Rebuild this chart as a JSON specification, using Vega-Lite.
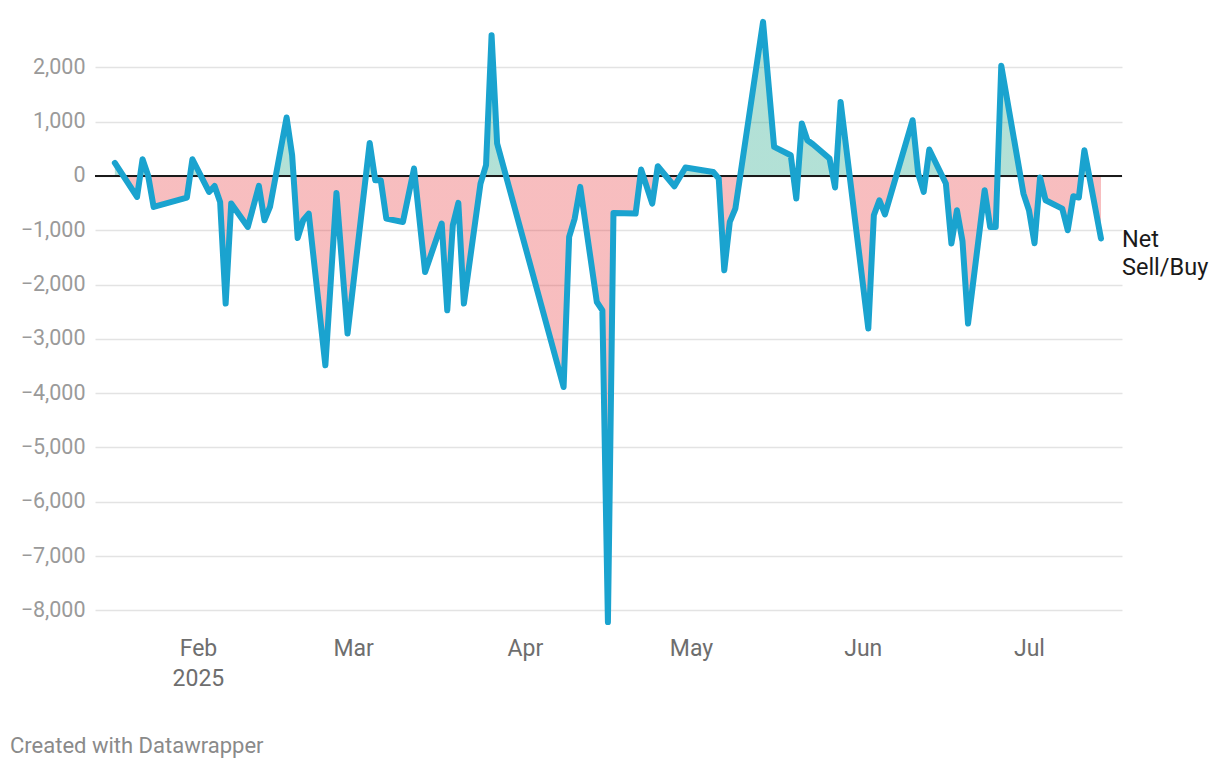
{
  "$schema": "https://vega.github.io/schema/vega-lite/v6.json",
  "width": 1027,
  "height": 611,
  "autosize": {"type": "none"},
  "padding": {"left": 95, "top": 13, "right": 98, "bottom": 144},
  "background": "white",
  "config": {"view": {"stroke": null}, "font": "Roboto"},
  "title": {"text": "Created with Datawrapper", "orient": "bottom", "anchor": "start", "frame": "group", "dx": -85, "offset": 46, "fontSize": 22, "fontWeight": "normal", "color": "#8a8a8a", "font": "Roboto"},
  "data": {"values": [
    {"date": "2025-01-17", "value": 240},
    {"date": "2025-01-21", "value": -387},
    {"date": "2025-01-22", "value": 307},
    {"date": "2025-01-23", "value": 10},
    {"date": "2025-01-24", "value": -571},
    {"date": "2025-01-30", "value": -398},
    {"date": "2025-01-31", "value": 307},
    {"date": "2025-02-03", "value": -295},
    {"date": "2025-02-04", "value": -184},
    {"date": "2025-02-05", "value": -479},
    {"date": "2025-02-06", "value": -2350},
    {"date": "2025-02-07", "value": -509},
    {"date": "2025-02-10", "value": -939},
    {"date": "2025-02-12", "value": -184},
    {"date": "2025-02-13", "value": -816},
    {"date": "2025-02-14", "value": -571},
    {"date": "2025-02-17", "value": 1076},
    {"date": "2025-02-18", "value": 381},
    {"date": "2025-02-19", "value": -1142},
    {"date": "2025-02-20", "value": -816},
    {"date": "2025-02-21", "value": -693},
    {"date": "2025-02-24", "value": -3487},
    {"date": "2025-02-26", "value": -313},
    {"date": "2025-02-28", "value": -2903},
    {"date": "2025-03-04", "value": 608},
    {"date": "2025-03-05", "value": -79},
    {"date": "2025-03-06", "value": -79},
    {"date": "2025-03-07", "value": -785},
    {"date": "2025-03-10", "value": -847},
    {"date": "2025-03-12", "value": 136},
    {"date": "2025-03-14", "value": -1768},
    {"date": "2025-03-17", "value": -877},
    {"date": "2025-03-18", "value": -2474},
    {"date": "2025-03-19", "value": -908},
    {"date": "2025-03-20", "value": -497},
    {"date": "2025-03-21", "value": -2350},
    {"date": "2025-03-24", "value": -140},
    {"date": "2025-03-25", "value": 197},
    {"date": "2025-03-26", "value": 2592},
    {"date": "2025-03-27", "value": 597},
    {"date": "2025-04-08", "value": -3887},
    {"date": "2025-04-09", "value": -1123},
    {"date": "2025-04-10", "value": -785},
    {"date": "2025-04-11", "value": -202},
    {"date": "2025-04-14", "value": -2321},
    {"date": "2025-04-15", "value": -2474},
    {"date": "2025-04-16", "value": -8215},
    {"date": "2025-04-17", "value": -681},
    {"date": "2025-04-21", "value": -693},
    {"date": "2025-04-22", "value": 117},
    {"date": "2025-04-24", "value": -509},
    {"date": "2025-04-25", "value": 179},
    {"date": "2025-04-28", "value": -190},
    {"date": "2025-04-30", "value": 154},
    {"date": "2025-05-05", "value": 74},
    {"date": "2025-05-06", "value": -48},
    {"date": "2025-05-07", "value": -1737},
    {"date": "2025-05-08", "value": -847},
    {"date": "2025-05-09", "value": -601},
    {"date": "2025-05-14", "value": 2837},
    {"date": "2025-05-16", "value": 534},
    {"date": "2025-05-19", "value": 381},
    {"date": "2025-05-20", "value": -417},
    {"date": "2025-05-21", "value": 965},
    {"date": "2025-05-22", "value": 658},
    {"date": "2025-05-23", "value": 584},
    {"date": "2025-05-26", "value": 320},
    {"date": "2025-05-27", "value": -214},
    {"date": "2025-05-28", "value": 1363},
    {"date": "2025-06-02", "value": -2811},
    {"date": "2025-06-03", "value": -724},
    {"date": "2025-06-04", "value": -448},
    {"date": "2025-06-05", "value": -708},
    {"date": "2025-06-10", "value": 1026},
    {"date": "2025-06-11", "value": 44},
    {"date": "2025-06-12", "value": -295},
    {"date": "2025-06-13", "value": 486},
    {"date": "2025-06-16", "value": -140},
    {"date": "2025-06-17", "value": -1245},
    {"date": "2025-06-18", "value": -632},
    {"date": "2025-06-19", "value": -1200},
    {"date": "2025-06-20", "value": -2719},
    {"date": "2025-06-23", "value": -263},
    {"date": "2025-06-24", "value": -939},
    {"date": "2025-06-25", "value": -939},
    {"date": "2025-06-26", "value": 2030},
    {"date": "2025-06-30", "value": -325},
    {"date": "2025-07-01", "value": -632},
    {"date": "2025-07-02", "value": -1240},
    {"date": "2025-07-03", "value": -30},
    {"date": "2025-07-04", "value": -448},
    {"date": "2025-07-07", "value": -601},
    {"date": "2025-07-08", "value": -1000},
    {"date": "2025-07-09", "value": -374},
    {"date": "2025-07-10", "value": -398},
    {"date": "2025-07-11", "value": 473},
    {"date": "2025-07-14", "value": -1153}
  ]},
  "layer": [
    {
      "mark": {
        "type": "area",
        "fillOpacity": 0.33,
        "fill": {
          "gradient": "linear", "x1": 0, "y1": 0, "x2": 0, "y2": 1,
          "stops": [
            {"offset": 0, "color": "#17a383"},
            {"offset": 0.2567, "color": "#17a383"},
            {"offset": 0.2567, "color": "#e8383d"},
            {"offset": 1, "color": "#e8383d"}
          ]
        }
      },
      "encoding": {
        "x": {
          "field": "date", "type": "temporal",
          "scale": {"type": "utc", "domain": [
            {"year": 2025, "month": 1, "date": 13, "hours": 10, "utc": true},
            {"year": 2025, "month": 7, "date": 17, "hours": 19, "utc": true}
          ]},
          "axis": {
            "title": null, "domain": false, "ticks": false, "grid": false,
            "tickCount": {"interval": "month", "step": 1},
            "labelExpr": "utcFormat(datum.value, '%m') == '02' ? ['Feb', '2025'] : utcFormat(datum.value, '%b')",
            "labelFontSize": 23, "labelColor": "#6e6e6e", "labelPadding": 13,
            "labelLineHeight": 30, "labelFlush": false, "labelOverlap": false, "labelFont": "Roboto"
          }
        },
        "y": {
          "field": "value", "type": "quantitative",
          "scale": {"domain": [-8250, 3000], "nice": false, "zero": false},
          "axis": {
            "title": null, "domain": false, "ticks": false,
            "values": [-8000, -7000, -6000, -5000, -4000, -3000, -2000, -1000, 0, 1000, 2000],
            "format": ",d", "labelFontSize": 21.5, "labelColor": "#9a9a9a", "labelPadding": 10,
            "labelFont": "Roboto", "gridColor": "#e3e3e3", "gridWidth": 1.5
          }
        },
        "y2": {"datum": 0}
      }
    },
    {
      "mark": {"type": "rule", "color": "#1a1a1a", "strokeWidth": 2},
      "encoding": {"y": {"datum": 0, "type": "quantitative"}}
    },
    {
      "mark": {"type": "line", "color": "#1aa3cf", "strokeWidth": 6, "strokeJoin": "round", "strokeCap": "round"},
      "encoding": {
        "x": {"field": "date", "type": "temporal"},
        "y": {"field": "value", "type": "quantitative"}
      }
    },
    {
      "transform": [
        {"window": [{"op": "row_number", "as": "rn"}], "sort": [{"field": "date", "order": "descending"}]},
        {"filter": "datum.rn == 1"}
      ],
      "mark": {"type": "text", "align": "left", "baseline": "alphabetic", "dx": 21, "dy": 8.5, "fontSize": 23.5, "lineHeight": 28, "color": "#1a1a1a", "font": "Roboto"},
      "encoding": {
        "x": {"field": "date", "type": "temporal"},
        "y": {"field": "value", "type": "quantitative"},
        "text": {"value": ["Net", "Sell/Buy"]}
      }
    }
  ]
}
